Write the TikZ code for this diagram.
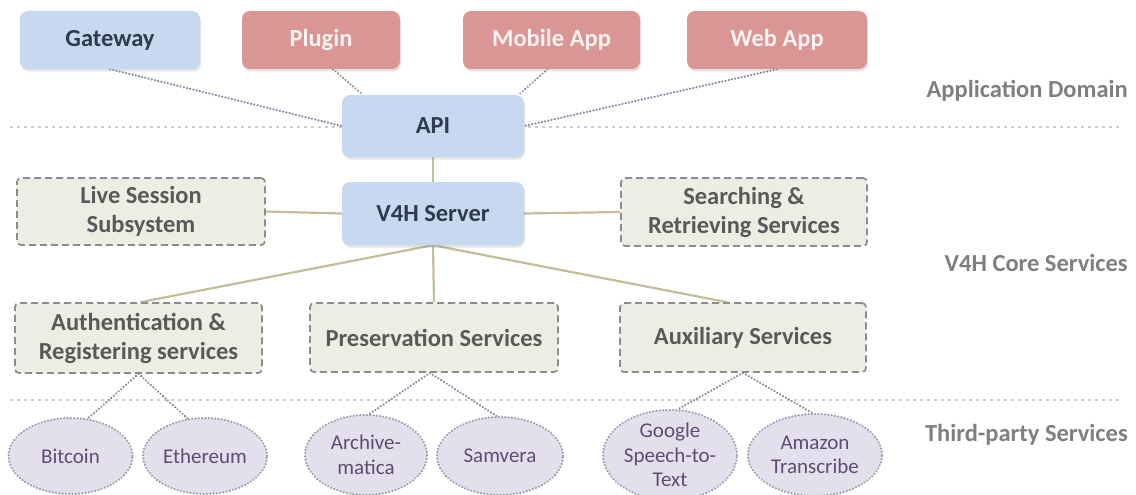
\documentclass[tikz,border=0pt]{standalone}
\usepackage{fontspec}
\setmainfont{Carlito}
\usetikzlibrary{shapes.geometric,shadows,backgrounds}

% palette
\definecolor{appblue}{HTML}{C6D9F1}
\definecolor{approse}{HTML}{D99694}
\definecolor{navytext}{HTML}{2F3B4C}
\definecolor{rosetext}{HTML}{FDF2F2}
\definecolor{corefill}{HTML}{EEEDE4}
\definecolor{coreedge}{HTML}{8C8C8C}
\definecolor{coretext}{HTML}{595959}
\definecolor{tanline}{HTML}{C4BD97}
\definecolor{linkdot}{HTML}{7A849C}
\definecolor{sepgray}{HTML}{CDCDCD}
\definecolor{extfill}{HTML}{E4DFEC}
\definecolor{extedge}{HTML}{9E98AC}
\definecolor{exttext}{HTML}{5B4E72}
\definecolor{layertext}{HTML}{7F7F7F}

\newcommand\boldtext{\fontsize{24.5}{29}\selectfont\bfseries}
\newcommand\exttextfont{\fontsize{21}{24.5}\selectfont}

\tikzset{
  appbox/.style={rectangle, rounded corners=8pt, inner sep=0pt,
    minimum height=58pt, font=\boldtext,
    drop shadow={shadow xshift=1pt, shadow yshift=-2.5pt, opacity=0.22}},
  bluebox/.style={appbox, fill=appblue, text=navytext},
  rosebox/.style={appbox, fill=approse, text=rosetext},
  corebox/.style={rectangle, rounded corners=4pt, inner sep=0pt,
    fill=corefill, draw=coreedge, line width=1.7pt,
    dash pattern=on 7pt off 4pt, text=coretext, font=\boldtext,
    align=center},
  extnode/.style={ellipse, inner sep=0pt, fill=extfill, draw=extedge,
    line width=2.3pt, dash pattern=on 0.1pt off 3.2pt, line cap=round,
    text=exttext, font=\exttextfont, align=center},
  layerlabel/.style={anchor=east, inner sep=0pt, text=layertext,
    font=\boldtext},
  sepline/.style={draw=sepgray, line width=2.8pt, dash pattern=on 3pt off 4pt},
  linkline/.style={draw=linkdot, line width=2.3pt,
    dash pattern=on 0.1pt off 3.2pt, line cap=round},
  coreline/.style={draw=tanline, line width=2.2pt},
}

\begin{document}
\begin{tikzpicture}[x=1pt, y=-1pt]
\useasboundingbox (0,0) rectangle (1136,495);

% application domain
\node[bluebox, minimum width=180pt] (gateway) at (110,40) {Gateway};
\node[rosebox, minimum width=158pt] (plugin) at (321,40) {Plugin};
\node[rosebox, minimum width=177pt] (mobile) at (551.5,40) {Mobile App};
\node[rosebox, minimum width=180pt] (web) at (777,40) {Web App};
\node[bluebox, minimum width=182pt, minimum height=62pt] (api) at (433,126) {API};

% core services
\node[bluebox, minimum width=182pt, minimum height=63pt] (server) at (433,213.5) {V4H Server};
\node[corebox, minimum width=248pt, minimum height=67pt] (live) at (141,211.5)
  {Live Session\\Subsystem};
\node[corebox, minimum width=246pt, minimum height=68pt] (search) at (744,212)
  {Searching \&\\Retrieving Services};
\node[corebox, minimum width=247pt, minimum height=70pt] (auth) at (138.5,338)
  {Authentication \&\\Registering services};
\node[corebox, minimum width=248pt, minimum height=69pt] (preserve) at (434,337.5)
  {Preservation Services};
\node[corebox, minimum width=246pt, minimum height=69pt] (aux) at (743,337.5)
  {Auxiliary Services};

% third-party services
\node[extnode, minimum width=124pt, minimum height=76pt] (bitcoin) at (70.5,456) {Bitcoin};
\node[extnode, minimum width=124pt, minimum height=76pt] (ethereum) at (205,456) {Ethereum};
\node[extnode, minimum width=122pt, minimum height=80pt] (archive) at (366,455) {Archive-\\matica};
\node[extnode, minimum width=126pt, minimum height=78pt] (samvera) at (500,456) {Samvera};
\node[extnode, minimum width=134pt, minimum height=86pt] (google) at (670,455) {Google\\Speech-to-\\Text};
\node[extnode, minimum width=134pt, minimum height=82pt] (amazon) at (815,455) {Amazon\\Transcribe};

% layer captions
\node[layerlabel] (domainlabel) at (1128,91) {Application Domain};
\node[layerlabel] (corelabel) at (1128,263) {V4H Core Services};
\node[layerlabel] (thirdlabel) at (1128,435) {Third-party Services};

\begin{scope}[on background layer]
  % layer separators
  \draw[sepline] (10,127) -- (1120,127);
  \draw[sepline] (10,400) -- (1120,400);

  % client links to the API
  \draw[linkline] (gateway.south) -- (api.west);
  \draw[linkline] ([xshift=12pt]plugin.south) -- (api.156);
  \draw[linkline] ([xshift=-4pt]mobile.south) -- (api.20);
  \draw[linkline] (web.south) -- (api.east);

  % core links
  \draw[coreline] (api.south) -- (server.north);
  \draw[coreline] (server.west) -- (live.east);
  \draw[coreline] (server.east) -- (search.west);
  \draw[coreline] (server.south) -- ([xshift=2pt]auth.north);
  \draw[coreline] (server.south) -- (preserve.north);
  \draw[coreline] (server.south) -- ([xshift=-16pt]aux.north);

  % links to external services
  \draw[linkline] (auth.south) -- (bitcoin.65);
  \draw[linkline] (auth.south) -- (ethereum.115);
  \draw[linkline] ([xshift=-4pt]preserve.south) -- (archive.85);
  \draw[linkline] ([xshift=-4pt]preserve.south) -- (samvera.95);
  \draw[linkline] (aux.south) -- (google.80);
  \draw[linkline] (aux.south) -- (amazon.94);
\end{scope}
\end{tikzpicture}
\end{document}
